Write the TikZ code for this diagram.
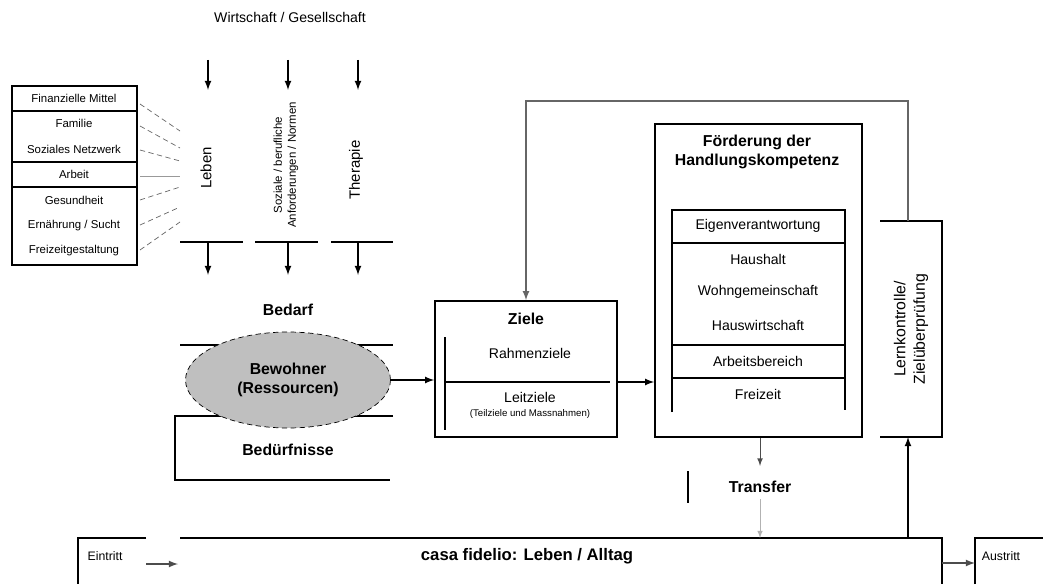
\documentclass[tikz,border=0pt]{standalone}
\usepackage{fontspec}
\setmainfont{Liberation Sans}
\usetikzlibrary{shapes.geometric,arrows,positioning,calc}

\begin{document}
\begin{tikzpicture}[
    x=0.02cm, y=-0.02cm,
    box/.style={rectangle, draw, line width=1pt, inner sep=0pt},
    bar/.style={line width=1pt},
    arrow/.style={line width=0.8pt,->,>=latex},
    link/.style={densely dashed, black!60, line width=0.4pt},
    item/.style={font=\fontsize{6.5}{8}\selectfont},
    subitem/.style={font=\fontsize{8}{9}\selectfont},
    head/.style={font=\fontsize{9}{11}\selectfont\bfseries, align=center},
    vtext/.style={font=\fontsize{8.5}{10}\selectfont, align=center, rotate=90},
    bewohnerbox/.style={ellipse, draw, densely dashed, fill=black!25, minimum width=4.1cm, minimum height=1.92cm, font=\fontsize{9}{11}\selectfont\bfseries, align=center}
]
\useasboundingbox (0,0) rectangle (1043,584);

% Top: influences
\node[font=\fontsize{8}{10}\selectfont] (wirtschaft) at (290,17) {Wirtschaft / Gesellschaft};

\foreach \x/\n in {208/a,288/b,358/c} {
    \coordinate (in\n) at (\x,60);
    \draw[arrow] (in\n) -- ++(0,30);
}

\node[vtext] (leben) at (206,168) {Leben};
\node[vtext, font=\fontsize{6.5}{8}\selectfont] (anforderung) at (286,165) {Soziale / berufliche\\Anforderungen / Normen};
\node[vtext] (therapie) at (356,170) {Therapie};

% Bars under the columns
\draw[bar] (180,242) -- (243,242);
\draw[bar] (255,242) -- (318,242);
\draw[bar] (331,242) -- (393,242);
\foreach \x in {208,288,358} {
    \draw[arrow] (\x,242) -- (\x,275);
}

% Left: areas of life
\node[box, minimum width=2.5cm, minimum height=3.58cm] (bereiche) at (74.5,175.5) {};
\node[item] (b1) at (74,98) {Finanzielle Mittel};
\node[item] (b2) at (74,123) {Familie};
\node[item] (b3) at (74,149) {Soziales Netzwerk};
\node[item] (b4) at (74,174) {Arbeit};
\node[item] (b5) at (74,200) {Gesundheit};
\node[item] (b6) at (74,226) {Ernährung / Sucht};
\node[item] (b7) at (74,251) {Freizeitgestaltung};
\foreach \y in {111,162,187} {
    \draw[bar] (bereiche.west |- 0,\y) -- (bereiche.east |- 0,\y);
}
\foreach \ya/\yb in {104/131,126/148,150/161,200/187,225/207,250/222} {
    \draw[link] (140,\ya) -- (180,\yb);
}
\draw[black!40, line width=0.4pt] (140,176) -- (180,176);

% Resident
\node[head] (bedarf) at (288,310) {Bedarf};
\draw[bar] (180,345) -- (393,345);
\draw[bar] (393,416) -- (175,416) -- (175,480) -- (390,480);
\node[bewohnerbox] (bewohner) at (288,380) {Bewohner\\(Ressourcen)};
\node[head] (beduerfnisse) at (288,450) {Bedürfnisse};

% Goals
\node[box, minimum width=3.64cm, minimum height=2.72cm] (ziele) at (526,369) {};
\node[head] (zieletitel) at (526,319) {Ziele};
\draw[bar] (445,337) -- (445,430);
\coordinate (leitline) at (610,382);
\draw[bar] (445,382) -- (leitline);
\node[subitem] (rahmenziele) at (530,353) {Rahmenziele};
\node[subitem] (leitziele) at (530,397) {Leitziele};
\node[font=\fontsize{5.5}{6}\selectfont] (massnahmen) at (530,414) {(Teilziele und Massnahmen)};

\draw[arrow] (bewohner.east) -- (bewohner.east -| ziele.west);

% Promotion of competence
\node[box, minimum width=4.14cm, minimum height=6.26cm] (foerderung) at (758.5,280.5) {};
\node[font=\fontsize{9}{11}\selectfont\bfseries, align=center] (foerdertitel) at (757,152) {Förderung der\\Handlungskompetenz};
\draw[bar] (672,412) -- (672,210) -- (845,210) -- (845,410);
\foreach \y in {243,345,378} {
    \draw[bar] (672,\y) -- (845,\y);
}
\node[subitem] (f1) at (758,226) {Eigenverantwortung};
\node[subitem] (f2) at (758,259) {Haushalt};
\node[subitem] (f3) at (758,292) {Wohngemeinschaft};
\node[subitem] (f4) at (758,325) {Hauswirtschaft};
\node[subitem] (f5) at (758,361) {Arbeitsbereich};
\node[subitem] (f6) at (758,394) {Freizeit};

\draw[arrow] (ziele.east |- leitline) -- (foerderung.west |- leitline);

% Learning control
\draw[bar] (880,221) -- (942,221) -- (942,437) -- (880,437);
\coordinate (lerntop) at (908,221);
\coordinate (lernbot) at (908,437);
\node[vtext, font=\fontsize{9}{11}\selectfont] (lern) at (911,329) {Lernkontrolle/\\Zielüberprüfung};

\draw[arrow, black!60] (lerntop) -- ++(0,-120) -| (ziele.north);

% Transfer
\node[head] (transfer) at (760,487) {Transfer};
\draw[arrow, line width=0.5pt, black!70] (foerderung.south -| transfer) -- ++(0,28);
\draw[bar] (688,471) -- (688,503);

% Everyday life
\draw[bar] (146,538) -- (78,538) -- (78,584);
\draw[bar] (180,538) -- (942,538) -- (942,584);
\node[font=\fontsize{9.5}{11}\selectfont\bfseries] (casa) at (527,556) {casa fidelio: Leben / Alltag};
\coordinate (casatop) at (908,538);
\coordinate (transferin) at (760,538);
\draw[arrow, line width=0.4pt, black!30] (transfer.south) -- (transferin);

\node[font=\fontsize{7}{8}\selectfont] (eintritt) at (105,556) {Eintritt};
\coordinate (ein) at (146,564);
\draw[arrow, black!70] (ein) -- ++(32,0);

\draw[bar] (975,584) -- (975,538) -- (1043,538);
\node[font=\fontsize{7}{8}\selectfont] (austritt) at (1001,556) {Austritt};
\draw[arrow, black!70] (942,563) -- (975,563);

\draw[arrow] (casatop) -- (lernbot);

\end{tikzpicture}
\end{document}
